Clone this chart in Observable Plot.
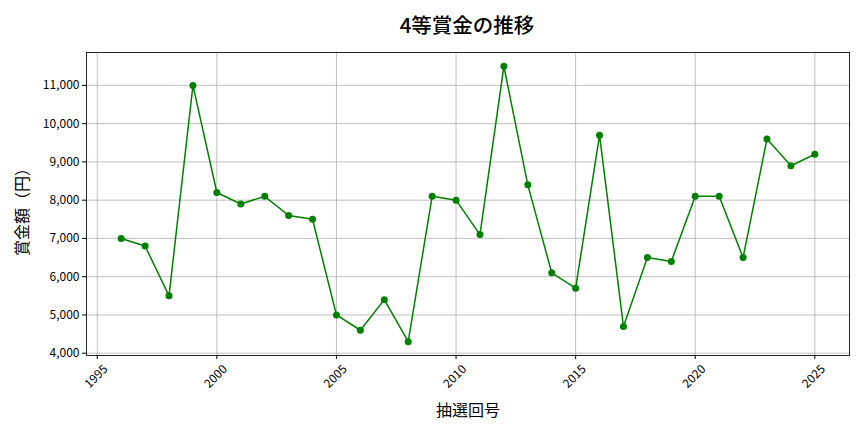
<!DOCTYPE html>
<html>
<head>
<meta charset="utf-8">
<script src="https://cdn.jsdelivr.net/npm/d3@7"></script>
<script src="https://cdn.jsdelivr.net/npm/@observablehq/plot@0.6"></script>
<style>
  body { margin: 0; background: #fff; font-family: "Noto Sans CJK JP", sans-serif; }
  #title { height: 40px; width: 864px; box-sizing: border-box; padding-left: 70px; text-align: center; font-size: 20.5px; font-weight: 500; line-height: 48px; color: #000; }
</style>
</head>
<body>
<div id="title">4等賞金の推移</div>
<div id="chart"></div>
<script>
const years = [1996,1997,1998,1999,2000,2001,2002,2003,2004,2005,2006,2007,2008,2009,2010,2011,2012,2013,2014,2015,2016,2017,2018,2019,2020,2021,2022,2023,2024,2025];
const prizes = [7000,6800,5500,11000,8200,7900,8100,7600,7500,5000,4600,5400,4300,8100,8000,7100,11500,8400,6100,5700,9700,4700,6500,6400,8100,8100,6500,9600,8900,9200];
const xTicks = [1995,2000,2005,2010,2015,2020,2025];
const yTicks = [4000,5000,6000,7000,8000,9000,10000,11000];
const yLabel = "賞金額（円）";
const xLabel = "抽選回号";

const data = years.map((y, i) => ({year: y, prize: prizes[i]}));
const yMin = 3940, yMax = 11860;

const chart = Plot.plot({
  width: 864,
  height: 392,
  marginTop: 12,
  marginBottom: 77,
  marginLeft: 86,
  marginRight: 15,
  style: {fontFamily: "Noto Sans CJK JP, sans-serif", fontSize: "12px", color: "#000"},
  x: {domain: [1994.55, 2026.45]},
  y: {domain: [yMin, yMax]},
  marks: [
    Plot.gridX(xTicks, {stroke: "#b0b0b0", strokeOpacity: 1, strokeWidth: 0.8}),
    Plot.gridY(yTicks, {stroke: "#b0b0b0", strokeOpacity: 1, strokeWidth: 0.8}),
    Plot.frame({stroke: "#222", strokeWidth: 1}),
    Plot.axisY({ticks: yTicks, tickFormat: d3.format(","), tickSize: 4, tickPadding: 3, label: null, fontSize: 12}),
    Plot.axisX({ticks: xTicks, tickFormat: () => "", tickSize: 4, label: null}),
    Plot.text(xTicks, {x: d => d, y: yMin, text: d => String(d), rotate: -45, dy: 21, dx: -1, textAnchor: "middle", lineAnchor: "middle", fontSize: 12}),
    Plot.line(data, {x: "year", y: "prize", stroke: "#008000", strokeWidth: 1.5}),
    Plot.dot(data, {x: "year", y: "prize", fill: "#008000", r: 3.5}),
    Plot.text([yLabel], {frameAnchor: "left", dx: -64, dy: 4, rotate: -90, textAnchor: "middle", lineAnchor: "middle", fontSize: 16, text: d => d}),
    Plot.text([xLabel], {frameAnchor: "bottom", dy: 55, textAnchor: "middle", lineAnchor: "middle", fontSize: 16, text: d => d})
  ]
});
document.getElementById("chart").appendChild(chart);
</script>
</body>
</html>
